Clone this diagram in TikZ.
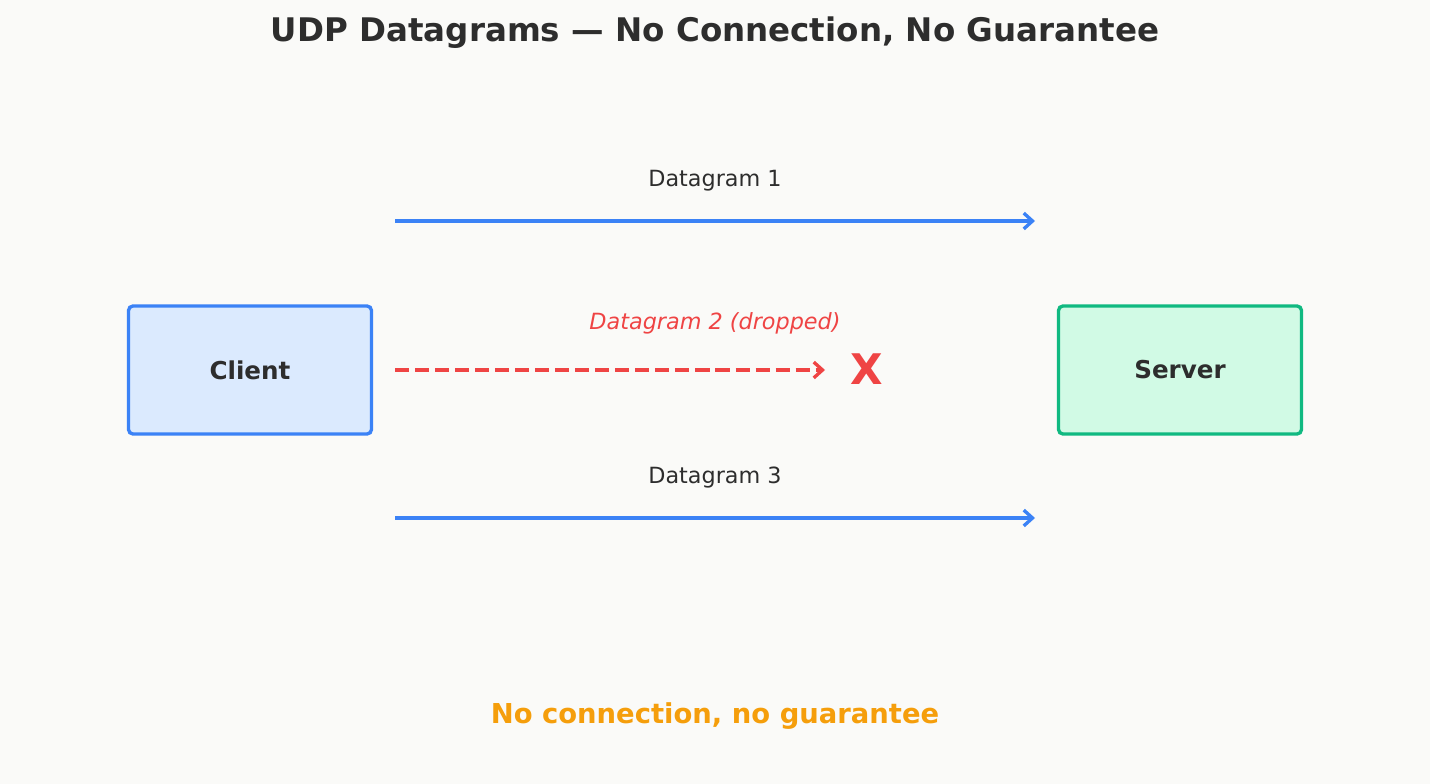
\documentclass[tikz,border=0pt]{standalone}
\usepackage{fontspec}
\setmainfont{DejaVu Sans}
\usetikzlibrary{positioning,arrows.meta}
\definecolor{bgc}{HTML}{FAFAF8}
\definecolor{ink}{HTML}{2D2D2D}
\definecolor{blu}{HTML}{3B82F6}
\definecolor{bluf}{HTML}{DBEAFE}
\definecolor{grn}{HTML}{10B981}
\definecolor{grnf}{HTML}{D1FAE5}
\definecolor{rd}{HTML}{EF4444}
\definecolor{org}{HTML}{F59E0B}
\tikzset{box/.style={draw,line width=1.9pt,rounded corners=2.5pt,minimum width=4.86cm,minimum height=2.56cm,font=\bfseries\fontsize{14}{16}\selectfont,text=ink},
         lbl/.style={font=\fontsize{12.7}{15}\selectfont,text=ink},
         sent/.style={blu,line width=1.9pt,-{Straight Barb[length=5pt,width=9pt]}},
         lost/.style={rd,line width=1.9pt,dash pattern=on 8pt off 3.4pt,-{Straight Barb[length=5pt,width=9pt]}}
}
\begin{document}
\begin{tikzpicture}[x=0.02cm,y=-0.02cm]
\fill[bgc] (0,0) rectangle (1430,784);
\useasboundingbox (0,0) rectangle (1430,784);

\node[font=\bfseries\fontsize{18.5}{22}\selectfont,text=ink] (title) at (715,33) {UDP Datagrams — No Connection, No Guarantee};
\node[box,fill=bluf,draw=blu] (client) at (250,370) {Client};
\node[box,fill=grnf,draw=grn] (server) at (1180,370) {Server};

\coordinate (s1) at (395,221);
\coordinate (e1) at (1035,221);
\coordinate (s2) at (395,370);
\coordinate (e2) at (825,370);
\coordinate (s3) at (395,518);
\coordinate (e3) at (1035,518);

\node[lbl] (d1) at (715,181) {Datagram 1};
\node[lbl,text=rd,font=\itshape\fontsize{12.7}{15}\selectfont] (d2) at (715,323) {Datagram 2 (dropped)};
\node[lbl] (d3) at (715,478) {Datagram 3};
\node[font=\bfseries\fontsize{24}{27}\selectfont,text=rd] (cross) at (867,369) {X};

\draw[sent] (s1)--(e1);
\draw[lost] (s2)--(e2);
\draw[sent] (s3)--(e3);

\node[font=\bfseries\fontsize{15.6}{18}\selectfont,text=org] (note) at (715,716) {No connection, no guarantee};
\end{tikzpicture}
\end{document}
